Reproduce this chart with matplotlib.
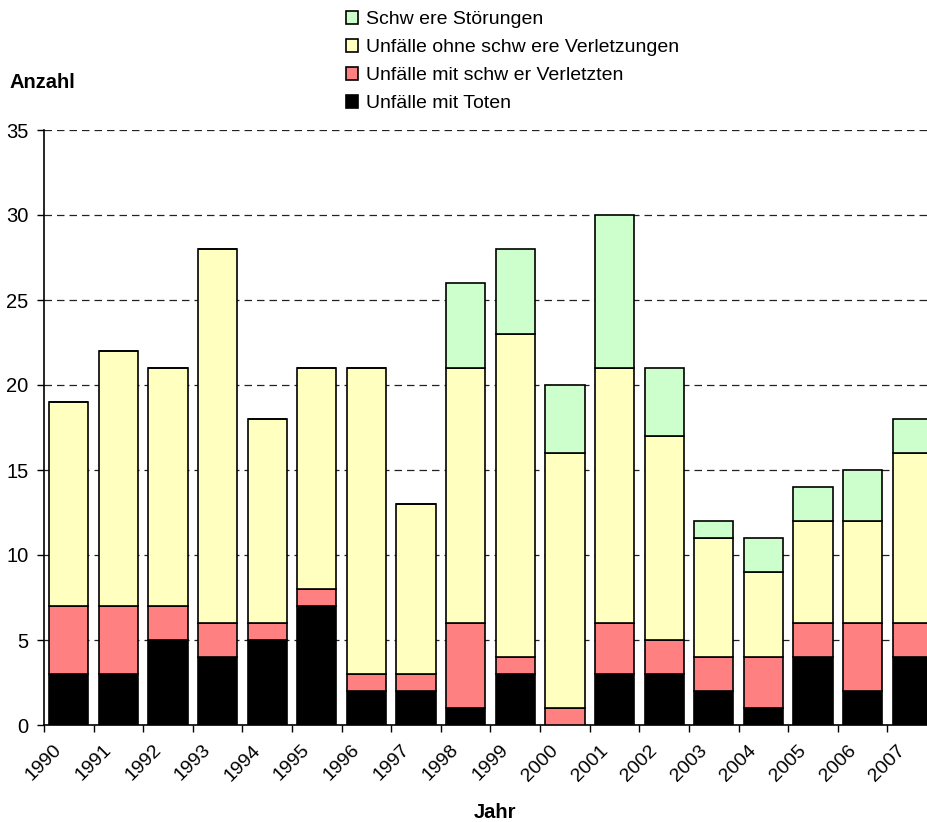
import matplotlib
matplotlib.use("Agg")
import matplotlib.pyplot as plt
import numpy as np

plt.rcParams['font.family'] = ['Liberation Sans', 'DejaVu Sans']

years = [str(y) for y in range(1990, 2008)]
toten = [3, 3, 5, 4, 5, 7, 2, 2, 1, 3, 0, 3, 3, 2, 1, 4, 2, 4]
schwer_verletzt = [4, 4, 2, 2, 1, 1, 1, 1, 5, 1, 1, 3, 2, 2, 3, 2, 4, 2]
ohne_schwer = [12, 15, 14, 22, 12, 13, 18, 10, 15, 19, 15, 15, 12, 7, 5, 6, 6, 10]
stoerungen = [0, 0, 0, 0, 0, 0, 0, 0, 5, 5, 4, 9, 4, 1, 2, 2, 3, 2]

labels = ["Unfälle mit Toten", "Unfälle mit schw er Verletzten",
          "Unfälle ohne schw ere Verletzungen", "Schw ere Störungen"]
colors = ["#000000", "#FF8080", "#FFFFC0", "#CCFFCC"]

W, H = 927, 822
fig = plt.figure(figsize=(W / 100, H / 100), dpi=100)
left, right, bottom, top = 44, 937, 725, 130
ax = fig.add_axes([left / W, 1 - bottom / H, (right - left) / W, (bottom - top) / H])

x = np.arange(len(years))
series = [toten, schwer_verletzt, ohne_schwer, stoerungen]
base = np.zeros(len(years))
handles = []
for vals, c, lab in zip(series, colors, labels):
    v = np.array(vals, dtype=float)
    b = ax.bar(x, v, bottom=base, width=0.79, color=c, edgecolor="black",
               linewidth=1.2, label=lab, zorder=3)
    handles.append(b)
    base += v

ax.set_xlim(-0.5, len(years) - 0.5)
ax.set_ylim(0, 35)
ax.set_yticks(range(0, 36, 5))
ax.yaxis.grid(True, linestyle=(0, (6, 4)), color="#222222", linewidth=0.9, zorder=0)
ax.set_axisbelow(True)
ax.set_xticks(x - 0.5)
ax.set_xticklabels(years, rotation=45, ha="center", va="top", fontsize=14)
ax.tick_params(axis="x", length=5, width=1, pad=7)
ax.tick_params(axis="y", length=5, width=1, labelsize=14.5, pad=6)
for s in ["top", "right"]:
    ax.spines[s].set_visible(False)
ax.spines["left"].set_linewidth(1.2)
ax.spines["bottom"].set_linewidth(1.2)

fig.text(10 / W, 1 - 82 / H, "Anzahl", fontsize=14.5, fontweight="bold", va="center")
fig.text(495 / W, 1 - 812 / H, "Jahr", fontsize=14.5, fontweight="bold", ha="center", va="center")

leg = fig.legend(handles[::-1], labels[::-1], loc="upper left",
                 bbox_to_anchor=(338 / W, 1 - 3 / H), frameon=False, fontsize=14,
                 handlelength=0.65, handleheight=0.65, handletextpad=0.4,
                 labelspacing=0.55, borderaxespad=0)

fig.savefig("out.png", dpi=100)
